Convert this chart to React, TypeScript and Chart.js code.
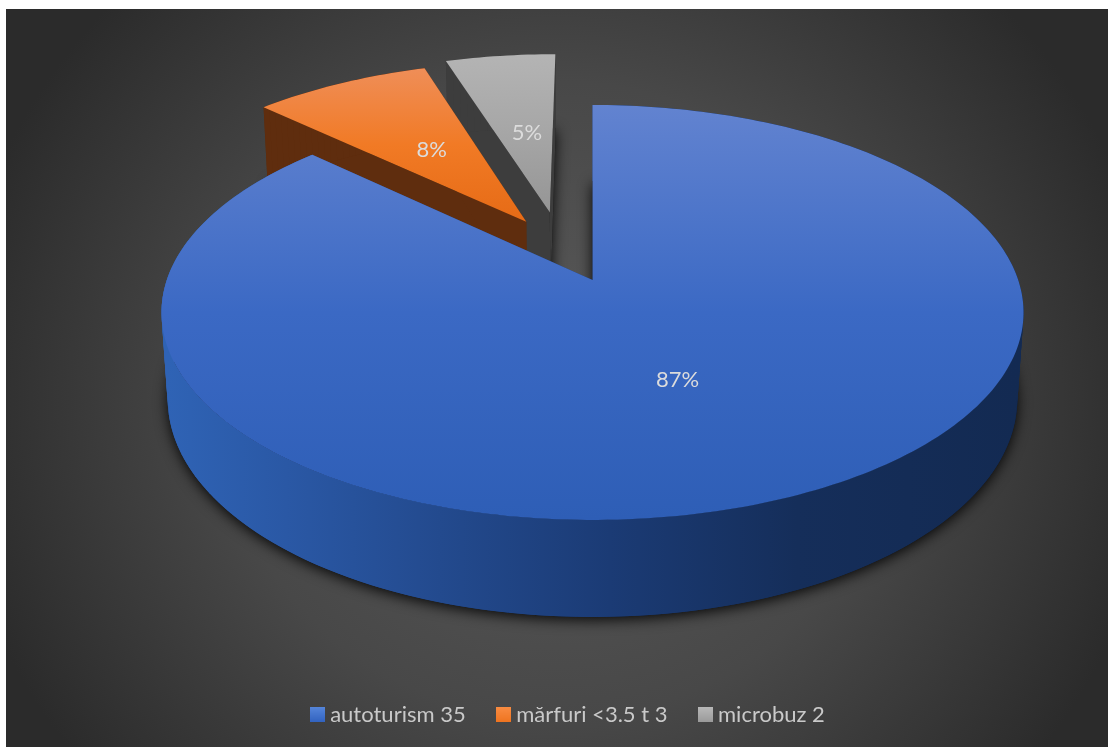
import React, { useEffect, useRef } from "react";
import { Chart, registerables } from "chart.js";

Chart.register(...registerables);

// Chart content
const categories = ["autoturism 35", "mărfuri <3.5 t 3", "microbuz 2"];
const shares = [87, 8, 5];

// Slice colours: top face stops (far to near), wall colour, legend swatch stops
const topStops = [
  ["#6283d0", "#3b69c4", "#2e5eb6"],
  ["#ef8e58", "#f17a25", "#e66b16"],
  ["#b4b4b4", "#a6a6a6", "#959595"],
];
const swatchStops = [
  ["#5585da", "#3263c0"],
  ["#f98c42", "#ef7420"],
  ["#b8b8b8", "#9a9a9a"],
];
const sliceOffsets = [0, 101, 101];
const sideNudge = [0, 0.028, -0.05];
const labelNudge = [
  [-4, 2],
  [2, 0],
  [3, 2],
];

const FONT = "Lato";

// Perspective camera of the tilted disc. u and v are in units of the pie radius,
// z runs from 0 on the top face to 1 on the underside.
const CAM = { cx: 592.5, cy: 280, ax: 425.7, by: 202.4, depth: 86.6, tilt: 0.1566, recede: 0.0143 };

function project(u: number, v: number, z: number): [number, number] {
  const w = 1 - CAM.tilt * v + CAM.recede * z;
  return [CAM.cx + (CAM.ax * u) / w, CAM.cy + (CAM.by * v + CAM.depth * z) / w];
}

type Wedge = { ou: number; ov: number; start: number; end: number };

function wedgeOutline(wedge: Wedge): [number, number][] {
  const pts: [number, number][] = [[wedge.ou, wedge.ov]];
  const steps = Math.max(2, Math.ceil((wedge.end - wedge.start) / 0.02));
  for (let i = 0; i <= steps; i++) {
    const a = wedge.start + ((wedge.end - wedge.start) * i) / steps;
    pts.push([wedge.ou + Math.cos(a), wedge.ov + Math.sin(a)]);
  }
  return pts;
}

function tracePath(ctx: CanvasRenderingContext2D, pts: [number, number][], z: number) {
  ctx.beginPath();
  pts.forEach(([u, v], i) => {
    const [x, y] = project(u, v, z);
    if (i === 0) ctx.moveTo(x, y);
    else ctx.lineTo(x, y);
  });
  ctx.closePath();
}

function fillWallQuad(ctx: CanvasRenderingContext2D, a: [number, number], b: [number, number]) {
  const q = [project(a[0], a[1], 0), project(b[0], b[1], 0), project(b[0], b[1], 1), project(a[0], a[1], 1)];
  ctx.beginPath();
  q.forEach(([x, y], n) => (n ? ctx.lineTo(x, y) : ctx.moveTo(x, y)));
  ctx.closePath();
  ctx.fill();
}

function wallPaint(ctx: CanvasRenderingContext2D, index: number): CanvasGradient | string {
  if (index === 0) {
    const g = ctx.createLinearGradient(168, 0, 1018, 0);
    g.addColorStop(0, "#2f63b5");
    g.addColorStop(0.14, "#2a58a5");
    g.addColorStop(0.32, "#234a8e");
    g.addColorStop(0.52, "#1b3b75");
    g.addColorStop(0.74, "#152e5a");
    g.addColorStop(1, "#132a52");
    return g;
  }
  return index === 1 ? "#5f2d0e" : "#3d3d3d";
}

function topPaint(ctx: CanvasRenderingContext2D, pts: [number, number][], index: number) {
  const ys = pts.map(([u, v]) => project(u, v, 0)[1]);
  const g = ctx.createLinearGradient(0, Math.min(...ys), 0, Math.max(...ys));
  const [a, b, c] = topStops[index];
  g.addColorStop(0, a);
  g.addColorStop(0.5, b);
  g.addColorStop(1, c);
  return g;
}

// Replaces the flat arcs with extruded wedges, using the angles the pie controller computed.
const tiltedPie = {
  id: "tiltedPie",
  beforeDraw(chart: Chart) {
    const { ctx, width, height } = chart;
    ctx.save();
    ctx.beginPath();
    ctx.rect(6, 9, width - 6, height - 9);
    ctx.clip();
    ctx.fillStyle = "#2b2b2b";
    ctx.fillRect(6, 9, width - 6, height - 9);
    ctx.translate(556, 400);
    ctx.scale(1, 0.95);
    const g = ctx.createRadialGradient(0, 0, 0, 0, 0, 610);
    g.addColorStop(0, "#5a5a5a");
    g.addColorStop(0.55, "#484848");
    g.addColorStop(1, "#2b2b2b");
    ctx.fillStyle = g;
    ctx.fillRect(-700, -700, 1400, 1400);
    ctx.restore();
  },
  beforeDatasetsDraw(chart: Chart) {
    const { ctx } = chart;
    const arcs = chart.getDatasetMeta(0).data as any[];
    const wedges: Wedge[] = arcs.map((arc, i) => {
      const mid = (arc.startAngle + arc.endAngle) / 2;
      const off = arc.options.offset / arc.outerRadius;
      return {
        ou: Math.cos(mid) * off + sideNudge[i],
        ov: Math.sin(mid) * off,
        start: arc.startAngle,
        end: arc.endAngle,
      };
    });

    // Far slices first, so the large slice overlaps them.
    [2, 1, 0].forEach((i) => {
      const pts = wedgeOutline(wedges[i]);
      ctx.save();
      ctx.shadowColor = "rgba(0,0,0,0.9)";
      ctx.shadowBlur = 14;
      ctx.shadowOffsetX = 0;
      ctx.shadowOffsetY = 3;
      ctx.fillStyle = "#101010";
      tracePath(ctx, pts, 1);
      ctx.fill();
      ctx.restore();

      ctx.fillStyle = wallPaint(ctx, i);
      const last = pts.length - 1;
      fillWallQuad(ctx, pts[0], pts[1]);
      fillWallQuad(ctx, pts[last], pts[0]);
      // Neighbouring rim quads overlap so no seams appear between them.
      for (let k = 1; k < last; k++) fillWallQuad(ctx, pts[k], pts[Math.min(k + 2, last)]);
    });

    [1, 2, 0].forEach((i) => {
      const pts = wedgeOutline(wedges[i]);
      ctx.fillStyle = topPaint(ctx, pts, i);
      tracePath(ctx, pts, 0);
      ctx.fill();
    });

    // Percentage labels sit halfway along each slice's middle radius.
    ctx.save();
    ctx.font = `22px ${FONT}`;
    ctx.fillStyle = "#dcdcdc";
    ctx.textAlign = "center";
    ctx.textBaseline = "middle";
    const total = shares.reduce((s, n) => s + n, 0);
    wedges.forEach((w, i) => {
      const mid = (w.start + w.end) / 2;
      const [x, y] = project(w.ou + Math.cos(mid) * 0.49, w.ov + Math.sin(mid) * 0.49, 0);
      ctx.fillText(`${Math.round((shares[i] / total) * 100)}%`, x + labelNudge[i][0], y + labelNudge[i][1]);
    });
    ctx.restore();
    return false;
  },
};

function makeSwatch(index: number): HTMLCanvasElement {
  const c = document.createElement("canvas");
  c.width = 15;
  c.height = 15;
  const x = c.getContext("2d")!;
  const g = x.createLinearGradient(0, 0, 0, 15);
  g.addColorStop(0, swatchStops[index][0]);
  g.addColorStop(1, swatchStops[index][1]);
  x.fillStyle = g;
  x.fillRect(0, 0, 15, 15);
  return c;
}

export default function App() {
  const ref = useRef<HTMLCanvasElement>(null);

  useEffect(() => {
    const chart = new Chart(ref.current!, {
      type: "pie",
      data: {
        labels: categories,
        datasets: [
          {
            data: shares,
            backgroundColor: topStops.map((s) => s[1]),
            offset: sliceOffsets,
            borderWidth: 0,
          },
        ],
      },
      options: {
        responsive: false,
        animation: false,
        events: [],
        rotation: 0,
        layout: { padding: { bottom: 11.5, left: 32 } },
        plugins: {
          tooltip: { enabled: false },
          legend: {
            position: "bottom",
            labels: {
              color: "#c9c9c9",
              font: { family: FONT, size: 22 },
              usePointStyle: true,
              pointStyleWidth: 4,
              boxHeight: 15,
              padding: 35.5,
              generateLabels: () =>
                categories.map((text, i) => ({
                  text,
                  pointStyle: makeSwatch(i),
                  fontColor: "#c9c9c9",
                  lineWidth: 0,
                  index: i,
                })),
            },
          },
        },
      },
      plugins: [tiltedPie],
    } as any);
    return () => chart.destroy();
  }, []);

  return (
    <canvas
      ref={ref}
      width={1108}
      height={747}
      style={{ position: "fixed", left: 0, top: 0, display: "block" }}
    />
  );
}
